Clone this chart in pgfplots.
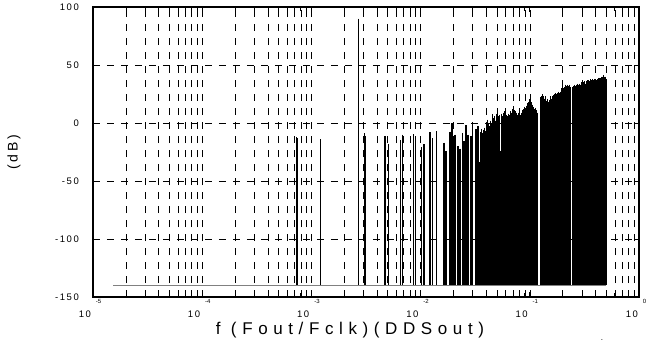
\documentclass[border=0pt]{standalone}
\usepackage{pgfplots}
\pgfplotsset{compat=1.18}
\usepackage{pgfplotstable}
\usepackage{fontspec}
\setmainfont{Liberation Sans}
\newfontfamily\lsY[LetterSpace=21]{Liberation Sans}
\newfontfamily\lsX[LetterSpace=33]{Liberation Sans}
\newcommand\xtl[1]{1\kern1.5pt0\kern5pt\raisebox{13.7pt}{\fontsize{6}{6}\selectfont #1}}

\pgfplotstableread{
f db
7.30e-4 -12
7.42e-4 -13
1.21e-3 -14
2.69e-3 90
3.05e-3 -9
3.14e-3 -11
4.72e-3 -11
5.06e-3 -18
6.57e-3 -15
6.80e-3 -10
8.57e-3 -9.5
9.00e-3 -12
1.024e-2 -21
1.08e-2 -18.5
1.22e-2 -8
1.28e-2 -13
1.40e-2 -7
1.64e-2 -17
1.70e-2 -24
1.86e-2 -7.5
1.93e-2 0
1.99e-2 -12
2.07e-2 -10
2.21e-2 -20
2.30e-2 -22
2.41e-2 -8.5
2.50e-2 -15.5
2.60e-2 -2
2.73e-2 -10
2.88e-2 -11
3.00e-2 1
3.20e-2 -5.5
3.34e-2 -2.5
}\sparse

\pgfplotstableread{
f db
0.0340 -3
0.0348 -34
0.0356 -8
0.0364 -5
0.0372 -9
0.0380 -6
0.0388 -4
0.0396 -7
0.0404 -3
0.0412 3
0.0420 -1
0.0428 -3
0.0436 2
0.0444 0
0.0452 5
0.0460 7.5
0.0468 4
0.0476 6
0.0484 2
0.0492 5
0.0500 8
0.0508 9
0.0516 6
0.0524 7
0.0532 3
0.0540 -24
0.0548 5
0.0556 8
0.0564 6
0.0572 9
0.0580 7
0.0588 10
0.0596 8
0.0604 9
0.0617 7
0.0630 6
0.0643 8
0.0656 7
0.0669 10
0.0682 9
0.0695 12
0.0708 14.6
0.0721 11
0.0734 8
0.0747 10
0.0760 9
0.0773 7
0.0786 9
0.0799 8
0.0812 10
0.0825 7
0.0838 9
0.0851 11
0.0864 10
0.0877 12
0.0890 10
0.0903 14
0.0916 12
0.0929 15
0.0942 13
0.0955 17
0.0968 15
0.0981 18
0.0994 20.4
0.1007 19
0.102 17
0.104 18
0.106 15.8
0.108 14
0.110 12
0.112 13
0.114 10
0.116 11
0.118 9
0.124 22
0.126 21
0.128 23
0.130 22
0.132 24.7
0.134 23
0.136 21
0.138 23
0.140 22
0.142 19
0.144 21
0.146 20
0.148 18
0.150 20
0.152 19
0.154 22
0.156 23
0.158 21
0.160 23
0.162 22
0.164 24
0.166 22
0.168 25
0.170 24
0.172 26
0.174 25
0.176 23
0.178 26
0.180 25
0.182 27
0.184 25
0.186 26
0.188 24
0.190 27
0.192 25
0.194 28
0.196 30
0.198 29
0.200 32
0.204 30
0.208 31
0.212 33
0.216 32
0.220 33
0.224 31
0.228 32
0.232 33
0.236 31
0.248 31
0.252 32
0.256 33
0.260 32
0.264 31
0.268 33
0.272 32
0.276 34
0.280 33
0.284 32
0.288 34
0.292 33
0.296 35
0.300 34
0.304 33
0.308 35
0.312 34
0.316 36
0.320 35
0.324 34
0.328 36
0.332 35
0.336 37
0.340 36
0.344 35
0.348 37
0.352 36
0.356 38
0.360 37
0.364 35
0.368 37
0.372 36
0.376 38
0.380 37
0.384 36
0.388 38
0.392 37
0.396 36
0.400 38
0.404 37
0.408 35
0.412 37
0.416 38
0.420 37
0.424 39
0.428 38
0.432 37
0.436 39
0.440 38
0.444 37
0.448 39
0.452 38
0.456 40
0.460 39
0.464 38
0.468 40
0.472 39
0.476 41
0.480 39
0.484 40
0.488 38
0.492 40
0.496 39
0.500 38
}\dense

\begin{document}
\begin{tikzpicture}
\begin{axis}[
  scale only axis, width=546pt, height=290pt,
  xmode=log, xmin=1e-5, xmax=1, ymin=-150, ymax=100,
  xtick={1e-5,1e-4,1e-3,1e-2,1e-1,1},
  xticklabels={\xtl{-5},\xtl{-4},\xtl{-3},\xtl{-2},\xtl{-1},\xtl{0}},
  minor xtick={2e-5,3e-5,4e-5,5e-5,6e-5,7e-5,8e-5,9e-5,
    2e-4,3e-4,4e-4,5e-4,6e-4,7e-4,8e-4,9e-4,
    2e-3,3e-3,4e-3,5e-3,6e-3,7e-3,8e-3,9e-3,
    2e-2,3e-2,4e-2,5e-2,6e-2,7e-2,8e-2,9e-2,
    0.2,0.3,0.4,0.5,0.6,0.7,0.8,0.9},
  ytick={-150,-100,-50,0,50,100},
  yticklabels={-\,1\,5\,0,-\,1\,0\,0,-\,5\,0,0,5\,0,1\,0\,0},
  xmajorgrids=true, xminorgrids=true, ymajorgrids=true,
  major grid style={black, line width=0.5pt, dash pattern=on 7pt off 7pt},
  minor grid style={black, line width=0.5pt, dash pattern=on 7pt off 7pt},
  tick align=inside,
  tick style={black, line width=0.7pt},
  major tick length=5pt, minor tick length=4pt,
  axis line style={line width=1.2pt},
  xticklabel style={font=\fontsize{9.5}{10}\selectfont, anchor=north, inner sep=0pt, yshift=-2pt, xshift=-3pt},
  yticklabel style={font=\fontsize{9.5}{10}\selectfont, anchor=east, inner sep=0pt, xshift=-14pt},
  xlabel={f (Fout/Fclk)(DDSout)},
  xlabel style={font=\lsX\fontsize{17}{20}\selectfont, at={(axis description cs:0.4707,-0.131)}, anchor=base, inner sep=0pt},
  ylabel={(dB)},
  ylabel style={font=\lsY\fontsize{14}{16}\selectfont, at={(axis description cs:-0.1447,0.5)}, anchor=center, inner sep=0pt},
]
\addplot[gray, line width=0.9pt] coordinates {(1.526e-5,-140) (0.5,-140)};
\addplot[draw=none, mark=none,
  error bars/.cd, y dir=minus, y explicit, error mark=none,
  error bar style={draw=black, solid, line width=1.5pt}]
  table[x=f, y=db, y error expr=\thisrow{db}+140] {\sparse};
\addplot[draw=none, mark=none,
  error bars/.cd, y dir=minus, y explicit, error mark=none,
  error bar style={draw=black, solid, line width=1pt}]
  table[x=f, y=db, y error expr=\thisrow{db}+140] {\dense};
\coordinate (bl) at (rel axis cs:0,0);
\coordinate (tr) at (rel axis cs:1,1);
\end{axis}
\node[inner sep=0pt, font=\fontsize{8}{8}\selectfont] at ([shift={(509pt,-43pt)}]bl) {.};
\pgfresetboundingbox
\path[use as bounding box] ([shift={(-93pt,-46pt)}]bl) rectangle ([shift={(8pt,7pt)}]tr);
\end{tikzpicture}
\end{document}
